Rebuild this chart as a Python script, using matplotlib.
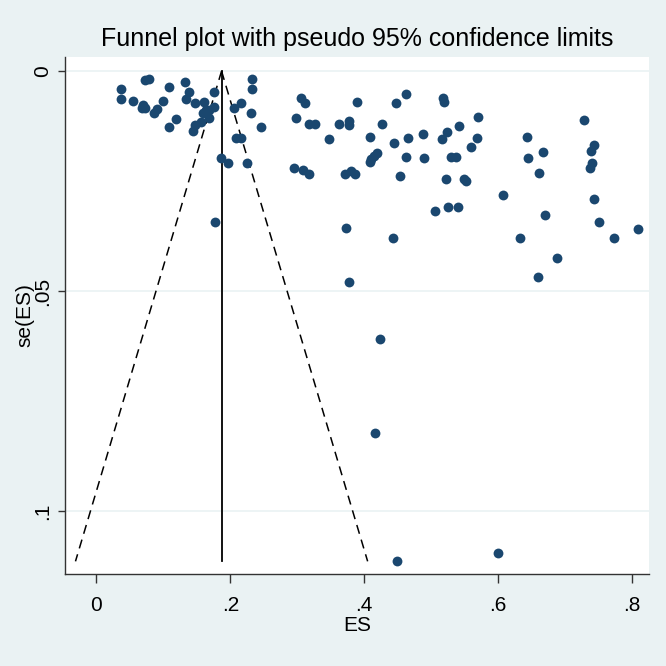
import matplotlib.pyplot as plt

# effect sizes and their standard errors
es = [0.037, 0.036, 0.072, 0.079, 0.055, 0.069, 0.072, 0.068, 0.109, 0.099,
      0.091, 0.086, 0.133, 0.139, 0.134, 0.148, 0.161, 0.163, 0.168, 0.176,
      0.176, 0.119, 0.109, 0.168, 0.156, 0.147, 0.145, 0.206, 0.216, 0.233,
      0.232, 0.231, 0.246, 0.208, 0.216, 0.186, 0.196, 0.225, 0.177, 0.305,
      0.312, 0.389, 0.299, 0.317, 0.327, 0.348, 0.363, 0.377, 0.378, 0.296,
      0.308, 0.317, 0.372, 0.381, 0.387, 0.373, 0.409, 0.427, 0.411, 0.415,
      0.419, 0.409, 0.448, 0.463, 0.445, 0.466, 0.462, 0.453, 0.488, 0.490,
      0.506, 0.443, 0.518, 0.519, 0.570, 0.542, 0.524, 0.517, 0.569, 0.560,
      0.530, 0.537, 0.523, 0.550, 0.552, 0.526, 0.541, 0.607, 0.644, 0.668,
      0.645, 0.662, 0.671, 0.633, 0.729, 0.744, 0.739, 0.740, 0.737, 0.744,
      0.751, 0.774, 0.810, 0.688, 0.660, 0.378, 0.424, 0.416, 0.449, 0.600,
      0.159]
se = [0.0041, 0.0064, 0.0020, 0.0018, 0.0068, 0.0077, 0.0083, 0.0085, 0.0036, 0.0068,
      0.0087, 0.0095, 0.0025, 0.0048, 0.0063, 0.0073, 0.0070, 0.0089, 0.0088, 0.0048,
      0.0082, 0.0110, 0.0127, 0.0107, 0.0115, 0.0123, 0.0136, 0.0083, 0.0073, 0.0018,
      0.0040, 0.0095, 0.0127, 0.0152, 0.0152, 0.0198, 0.0209, 0.0209, 0.0344, 0.0062,
      0.0072, 0.0070, 0.0106, 0.0120, 0.0120, 0.0154, 0.0120, 0.0114, 0.0123, 0.0220,
      0.0225, 0.0233, 0.0233, 0.0227, 0.0234, 0.0356, 0.0150, 0.0120, 0.0199, 0.0193,
      0.0187, 0.0207, 0.0073, 0.0051, 0.0164, 0.0153, 0.0196, 0.0239, 0.0143, 0.0197,
      0.0319, 0.0380, 0.0062, 0.0071, 0.0105, 0.0124, 0.0139, 0.0155, 0.0153, 0.0172,
      0.0196, 0.0196, 0.0246, 0.0246, 0.0250, 0.0308, 0.0308, 0.0281, 0.0149, 0.0183,
      0.0198, 0.0231, 0.0327, 0.0379, 0.0111, 0.0167, 0.0182, 0.0208, 0.0221, 0.0290,
      0.0342, 0.0380, 0.0358, 0.0425, 0.0468, 0.0479, 0.0609, 0.0823, 0.1114, 0.1096,
      0.0096]
pooled = 0.187

x_ticks = [0, 0.2, 0.4, 0.6, 0.8]
x_labels = ['0', '.2', '.4', '.6', '.8']
y_ticks = [0, 0.05, 0.1]
y_labels = ['0', '.05', '.1']

plt.rcParams['font.family'] = ['Liberation Sans', 'DejaVu Sans']

bg = '#EAF2F3'
fig = plt.figure(figsize=(6.66, 6.66), dpi=100, facecolor=bg)
ax = fig.add_axes([0.0976, 0.138, 0.877, 0.7764])
ax.set_facecolor('white')

# funnel: pooled estimate and pseudo 95% limits
se_max = max(se)
ax.plot([pooled, pooled], [0, se_max], color='black', lw=1.3, zorder=2)
ax.plot([pooled, pooled - 1.96 * se_max], [0, se_max], color='black',
        lw=1.1, dashes=(6, 4), zorder=2)
ax.plot([pooled, pooled + 1.96 * se_max], [0, se_max], color='black',
        lw=1.1, dashes=(6, 4), zorder=2)

ax.scatter(es, se, s=50, color='#1A476F', linewidths=0, zorder=3)

ax.set_xlim(-0.047, 0.826)
ax.set_ylim(0.1143, -0.0032)

ax.set_xticks(x_ticks)
ax.set_xticklabels(x_labels)
ax.set_yticks(y_ticks)
ax.set_yticklabels(y_labels, rotation=90, va='center')
ax.tick_params(labelsize=15, width=1, color='#333333')
ax.tick_params(axis='x', length=6.5, pad=9)
ax.tick_params(axis='y', length=5, pad=4.5)
ax.grid(axis='y', color=bg, lw=1.2)
ax.set_axisbelow(True)

for side in ['top', 'right']:
    ax.spines[side].set_visible(False)
for side in ['left', 'bottom']:
    ax.spines[side].set_color('#333333')
    ax.spines[side].set_linewidth(1)

ax.set_xlabel('ES', fontsize=15, labelpad=1)
ax.set_ylabel('se(ES)', fontsize=15)
ax.yaxis.set_label_coords(-0.052, 0.5)
ax.set_title('Funnel plot with pseudo 95% confidence limits', fontsize=18, pad=8)

fig.savefig('out.png', dpi=100, facecolor=bg)
